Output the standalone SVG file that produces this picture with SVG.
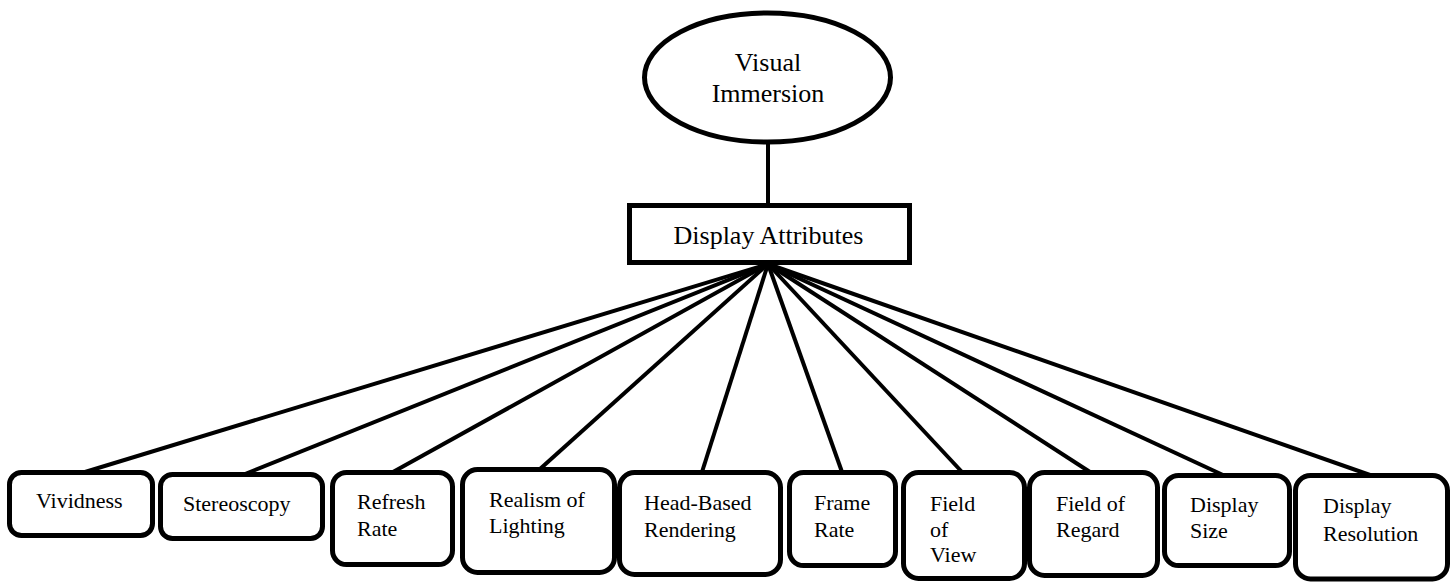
<svg xmlns="http://www.w3.org/2000/svg" width="1455" height="582" viewBox="0 0 1455 582">
  <style>
    .bg { fill: #ffffff; }
    .node { fill: #ffffff; stroke: #000000; stroke-width: 5; }
    .link { stroke: #000000; stroke-width: 4; fill: none; stroke-linecap: butt; }
    .big { font-family: "Liberation Serif", "Times New Roman", serif; font-size: 26px; fill: #000000; }
    .lbl { font-family: "Liberation Serif", "Times New Roman", serif; font-size: 22px; fill: #000000; }
  </style>
  <rect class="bg" x="0" y="0" width="1455" height="582"/>

  <!-- connectors -->
  <g id="connectors">
    <line class="link" x1="768" y1="142" x2="768" y2="205"/>
    <line class="link" x1="768" y1="264" x2="85" y2="472"/>
    <line class="link" x1="768" y1="264" x2="245" y2="474"/>
    <line class="link" x1="768" y1="264" x2="393" y2="472"/>
    <line class="link" x1="768" y1="264" x2="540" y2="469"/>
    <line class="link" x1="768" y1="264" x2="702" y2="472"/>
    <line class="link" x1="768" y1="264" x2="842" y2="472"/>
    <line class="link" x1="768" y1="264" x2="962" y2="472"/>
    <line class="link" x1="768" y1="264" x2="1090" y2="472"/>
    <line class="link" x1="768" y1="264" x2="1223" y2="475"/>
    <line class="link" x1="768" y1="264" x2="1370" y2="475"/>
  </g>

  <g id="visual-immersion">
    <ellipse class="node" cx="767.5" cy="77.5" rx="123" ry="64.5"/>
    <text class="big" x="768" y="71" text-anchor="middle">Visual</text>
    <text class="big" x="768" y="102" text-anchor="middle">Immersion</text>
  </g>

  <g id="display-attributes">
    <rect class="node" x="629.5" y="205.5" width="280" height="57"/>
    <text class="big" x="768.5" y="244" text-anchor="middle">Display Attributes</text>
  </g>

  <g id="vividness">
    <rect class="node" x="9.5" y="472.5" width="143" height="63" rx="12"/>
    <text class="lbl" x="36" y="508">Vividness</text>
  </g>

  <g id="stereoscopy">
    <rect class="node" x="160.5" y="474.5" width="162" height="64" rx="12"/>
    <text class="lbl" x="183" y="511">Stereoscopy</text>
  </g>

  <g id="refresh-rate">
    <rect class="node" x="332.5" y="472.5" width="120" height="92" rx="14"/>
    <text class="lbl" x="357" y="509">Refresh</text>
    <text class="lbl" x="357" y="536">Rate</text>
  </g>

  <g id="realism-of-lighting">
    <rect class="node" x="462.5" y="469.5" width="152" height="103" rx="15"/>
    <text class="lbl" x="489" y="507">Realism of</text>
    <text class="lbl" x="489" y="533">Lighting</text>
  </g>

  <g id="head-based-rendering">
    <rect class="node" x="619.5" y="472.5" width="161" height="102" rx="15"/>
    <text class="lbl" x="644" y="510">Head-Based</text>
    <text class="lbl" x="644" y="537">Rendering</text>
  </g>

  <g id="frame-rate">
    <rect class="node" x="789.5" y="472.5" width="106" height="93" rx="14"/>
    <text class="lbl" x="814" y="510">Frame</text>
    <text class="lbl" x="814" y="537">Rate</text>
  </g>

  <g id="field-of-view">
    <rect class="node" x="903.5" y="472.5" width="121" height="106" rx="15"/>
    <text class="lbl" x="930" y="511">Field</text>
    <text class="lbl" x="930" y="537">of</text>
    <text class="lbl" x="930" y="562">View</text>
  </g>

  <g id="field-of-regard">
    <rect class="node" x="1029.5" y="472.5" width="128" height="103" rx="15"/>
    <text class="lbl" x="1056" y="511">Field of</text>
    <text class="lbl" x="1056" y="537">Regard</text>
  </g>

  <g id="display-size">
    <rect class="node" x="1164.5" y="475.5" width="125" height="90" rx="14"/>
    <text class="lbl" x="1190" y="512">Display</text>
    <text class="lbl" x="1190" y="538">Size</text>
  </g>

  <g id="display-resolution">
    <rect class="node" x="1295.5" y="475.5" width="152" height="103.5" rx="15"/>
    <text class="lbl" x="1323" y="513">Display</text>
    <text class="lbl" x="1323" y="541">Resolution</text>
  </g>
</svg>
